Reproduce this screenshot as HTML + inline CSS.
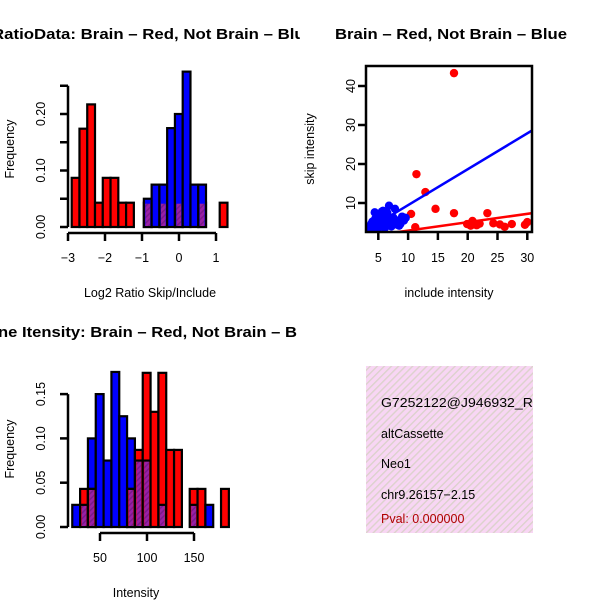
<!DOCTYPE html>
<html><head><meta charset="utf-8"><style>
html,body{margin:0;padding:0;background:#fff;}
svg{display:block;font-family:"Liberation Sans",sans-serif;}
</style></head><body>
<svg id="c" width="600" height="600" viewBox="0 0 600 600" xmlns="http://www.w3.org/2000/svg">
<defs>
<clipPath id="q1"><rect x="0" y="0" width="300" height="300"/></clipPath>
<clipPath id="q3"><rect x="0" y="300" width="300" height="300"/></clipPath>
<clipPath id="sc"><rect x="366" y="66" width="166" height="166"/></clipPath>
<clipPath id="ip"><rect x="366" y="366" width="167" height="167"/></clipPath>
<pattern id="pinkhatch" width="5" height="5" patternUnits="userSpaceOnUse" patternTransform="rotate(45)">
<rect width="5" height="5" fill="#f8d6f4"/><rect width="1.4" height="5" fill="#dcd2cc"/></pattern>
<pattern id="purphatch" width="4" height="4" patternUnits="userSpaceOnUse" patternTransform="rotate(45)">
<rect width="4" height="4" fill="#9a1fa6"/><rect width="1.5" height="4" fill="#7a1a8a"/></pattern>
</defs>
<g id="tl" clip-path="url(#q1)"></g>
<g id="tr"></g>
<g id="bl" clip-path="url(#q3)"></g>
<g id="br" clip-path="url(#ip)">
<rect x="366" y="366" width="167" height="167" fill="url(#pinkhatch)"/>
<text x="381" y="407" font-size="12.5" textLength="162" lengthAdjust="spacingAndGlyphs">G7252122@J946932_RC</text>
<text x="381" y="438" font-size="12.5">altCassette</text>
<text x="381" y="468" font-size="12.5">Neo1</text>
<text x="381" y="499" font-size="12.5">chr9.26157−2.15</text>
<text x="381" y="523" font-size="12.5" fill="#b00000">Pval: 0.000000</text>
</g>
</svg>
<script>
// ---- Top-left histogram data (log2 ratio) ----
const ratioRedLeft = [-2.9,-2.69,-2.48,-2.27,-2.06,-1.85,-1.64,-1.43,-0.95,-0.53,-0.11,0.52,1.1];
const ratioRedFreq = [0.087,0.174,0.217,0.043,0.087,0.087,0.043,0.043,0.043,0.043,0.043,0.043,0.043];
const ratioBlueLeft = [-0.95,-0.74,-0.53,-0.32,-0.11,0.10,0.31,0.52];
const ratioBlueFreq = [0.05,0.075,0.075,0.175,0.2,0.275,0.075,0.075];
const ratioBinW = 0.21;
const ratioXTicks = [-3,-2,-1,0,1];
const ratioYTicks = [0,0.05,0.1,0.15,0.2,0.25];
const ratioYLabels = ["0.00","","0.10","","0.20",""];
// ---- Bottom-left histogram data (intensity) ----
const intStart = 20.5, intBinW = 8.33;
const intBlueFreq = [0.025,0.025,0.1,0.15,0.075,0.175,0.125,0.1,0.075,0.075,0,0.025,0,0,0,0.025,0,0.025,0,0];
const intRedFreq  = [0,0.043,0.043,0,0,0,0,0.043,0.087,0.174,0.13,0.174,0.087,0.087,0,0.043,0.043,0,0,0.043];
const intXTicks = [50,100,150];
const intYTicks = [0,0.05,0.1,0.15];
const intYLabels = ["0.00","0.05","0.10","0.15"];
// ---- Scatter data ----
const redX = [17.7,11.4,12.9,14.6,17.7,10.5,23.3,11.2,19.9,20.8,21.5,20.5,24.3,25.4,26.2,27.4,29.6,30.0,22.0];
const redY = [43.3,17.4,12.8,8.5,7.4,7.2,7.4,3.8,4.6,5.4,4.3,4.2,4.8,4.5,3.9,4.6,4.4,5.1,4.7];
const blueX = [3.2,3.6,4.0,4.2,4.5,4.8,5.0,5.2,5.5,5.8,6.0,6.2,6.5,6.8,7.0,7.2,7.5,7.8,8.0,8.3,8.7,9.0,9.3,9.6,4.4,5.3,6.1,6.9,3.8,5.6,7.4,8.5,4.9,6.4];
const blueY = [3.2,4.0,5.2,3.5,6.0,4.5,7.0,3.8,5.5,8.0,4.2,6.5,7.5,9.3,5.0,4.0,6.3,8.5,4.5,5.5,4.6,6.5,5.5,6.2,7.6,5.8,3.6,4.8,4.6,7.8,5.2,4.2,3.4,5.9];
const blueFit = [0.26,0.92];
const redFit = [0.77,0.215];
const scXTicks = [5,10,15,20,25,30];
const scYTicks = [10,20,30,40];

const NS="http://www.w3.org/2000/svg";
function mk(tag,attrs,parent){const e=document.createElementNS(NS,tag);for(const k in attrs)e.setAttribute(k,attrs[k]);parent.appendChild(e);return e;}
function txt(parent,x,y,s,size,anchor,rot){const e=mk('text',{x:x,y:y,'font-size':size,'text-anchor':anchor||'middle'},parent);if(rot)e.setAttribute('transform','rotate(-90 '+x+' '+y+')');e.textContent=s;return e;}

// ===== Top-left =====
const tl=document.getElementById('tl');
const rx=v=>68+(v+3)*37, ry=v=>227-v*565;
ratioRedLeft.forEach((l,i)=>{
  const b=mk('rect',{x:rx(l),y:ry(ratioRedFreq[i]),width:ratioBinW*37,height:227-ry(ratioRedFreq[i]),fill:'#ff0000',stroke:'#000','stroke-width':2.2},tl);
  
  
});
ratioBlueLeft.forEach((l,i)=>{
  const b=mk('rect',{x:rx(l),y:ry(ratioBlueFreq[i]),width:ratioBinW*37,height:227-ry(ratioBlueFreq[i]),fill:'#0000ff',stroke:'#000','stroke-width':2.2},tl);
  
  
  ratioRedLeft.forEach((rl,j)=>{ if(Math.abs(rl-l)<0.05){
    const h=Math.min(ratioRedFreq[j],ratioBlueFreq[i]);
    const o=mk('rect',{x:rx(l)+1.5,y:ry(h)+1,width:ratioBinW*37-3,height:227-ry(h)-2,fill:'url(#purphatch)'},tl);
    
    
  }});
});
mk('line',{x1:68,y1:ry(0),x2:68,y2:ry(0.25),stroke:'#000','stroke-width':2.5},tl);
ratioYTicks.forEach((t,i)=>{mk('line',{x1:60,y1:ry(t),x2:68,y2:ry(t),stroke:'#000','stroke-width':2.5},tl);
  if(ratioYLabels[i]){const e=txt(tl,45,ry(t),ratioYLabels[i],12.5,'middle',true);}});
mk('line',{x1:rx(-3),y1:233,x2:rx(1),y2:233,stroke:'#000','stroke-width':2.5},tl);
ratioXTicks.forEach(t=>{mk('line',{x1:rx(t),y1:233,x2:rx(t),y2:241,stroke:'#000','stroke-width':2.5},tl);
  const e=txt(tl,rx(t),262,String(t).replace('-','−'),12.5);});
let e=txt(tl,-8,39,'RatioData: Brain – Red, Not Brain – Blue',15,'start');e.setAttribute('font-weight','bold');e.setAttribute('textLength','322');e.setAttribute('lengthAdjust','spacingAndGlyphs');

e=txt(tl,150,297,'Log2 Ratio Skip/Include',12.5);
e=txt(tl,14,149,'Frequency',12.5,'middle',true);

// ===== Bottom-left =====
const bl=document.getElementById('bl');
const ix=v=>100+(v-50)*0.94, iy=v=>527-v*886;
intBlueFreq.forEach((bv,i)=>{
  const rv=intRedFreq[i], l=intStart+i*intBinW, w=intBinW*0.94;
  const drawBar=(v,col,name)=>{const b=mk('rect',{x:ix(l),y:iy(v),width:w,height:527-iy(v),fill:col,stroke:'#000','stroke-width':2.2},bl);
    
    };
  if(rv>=bv){ if(rv>0)drawBar(rv,'#ff0000','intensity-red-bar'); if(bv>0&&rv===0)drawBar(bv,'#0000ff','intensity-blue-bar'); }
  else { drawBar(bv,'#0000ff','intensity-blue-bar'); if(rv>0)drawBar(rv,'#ff0000','intensity-red-bar'); }
  const h=Math.min(bv,rv);
  if(h>0){const o=mk('rect',{x:ix(l)+1.5,y:iy(h)+1,width:w-3,height:527-iy(h)-2,fill:'url(#purphatch)'},bl);
    
    
    mk('line',{x1:ix(l),y1:iy(h),x2:ix(l)+w,y2:iy(h),stroke:'#000','stroke-width':2.2},bl);}
});
mk('line',{x1:68,y1:iy(0),x2:68,y2:iy(0.15),stroke:'#000','stroke-width':2.5},bl);
intYTicks.forEach((t,i)=>{mk('line',{x1:60,y1:iy(t),x2:68,y2:iy(t),stroke:'#000','stroke-width':2.5},bl);
  const e=txt(bl,45,iy(t),intYLabels[i],12.5,'middle',true);});
mk('line',{x1:ix(50),y1:533,x2:ix(150),y2:533,stroke:'#000','stroke-width':2.5},bl);
intXTicks.forEach(t=>{mk('line',{x1:ix(t),y1:533,x2:ix(t),y2:541,stroke:'#000','stroke-width':2.5},bl);
  const e=txt(bl,ix(t),562,String(t),12.5);});
e=txt(bl,-2,337,'ne Itensity: Brain – Red, Not Brain – B',15,'start');e.setAttribute('font-weight','bold');e.setAttribute('textLength','299');e.setAttribute('lengthAdjust','spacingAndGlyphs');

e=txt(bl,136,597,'Intensity',12.5);
e=txt(bl,14,449,'Frequency',12.5,'middle',true);

// ===== Scatter =====
const tr=document.getElementById('tr');
const sx=v=>348.5+v*5.96, sy=v=>242-v*3.9;
const pg=mk('g',{'clip-path':'url(#sc)'},tr);
redX.forEach((x,i)=>{const c=mk('circle',{cx:sx(x),cy:sy(redY[i]),r:4.2,fill:'#ff0000'},pg);
  
  });
blueX.forEach((x,i)=>{const c=mk('circle',{cx:sx(x),cy:sy(blueY[i]),r:4.2,fill:'#0000ff'},pg);
  
  });
const l1=mk('line',{x1:sx(3),y1:sy(blueFit[0]+blueFit[1]*3),x2:sx(31),y2:sy(blueFit[0]+blueFit[1]*31),stroke:'#0000ff','stroke-width':2.5},pg);

const l2=mk('line',{x1:sx(7),y1:sy(redFit[0]+redFit[1]*7),x2:sx(31),y2:sy(redFit[0]+redFit[1]*31),stroke:'#ff0000','stroke-width':2.5},pg);

mk('rect',{x:366,y:66,width:166,height:166,fill:'none',stroke:'#000','stroke-width':2.5},tr);
scXTicks.forEach(t=>{mk('line',{x1:sx(t),y1:232,x2:sx(t),y2:240,stroke:'#000','stroke-width':2.5},tr);
  const e=txt(tr,sx(t),262,String(t),12.5);});
scYTicks.forEach(t=>{mk('line',{x1:358,y1:sy(t),x2:366,y2:sy(t),stroke:'#000','stroke-width':2.5},tr);
  const e=txt(tr,355,sy(t),String(t),12.5,'middle',true);});
e=txt(tr,335,39,'Brain – Red, Not Brain – Blue',15,'start');e.setAttribute('font-weight','bold');e.setAttribute('textLength','232');e.setAttribute('lengthAdjust','spacingAndGlyphs');

e=txt(tr,449,297,'include intensity',12.5);
e=txt(tr,314,149,'skip intensity',12.5,'middle',true);
</script>
</body></html>
